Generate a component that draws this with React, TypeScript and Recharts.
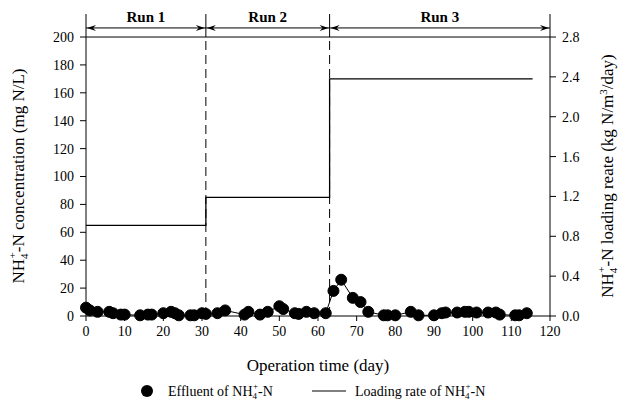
import React from 'react'
import { ComposedChart, Line, XAxis, YAxis, ReferenceLine } from 'recharts'

// effluent NH4+-N (mg N/L)
const days = [0, 1, 3, 6, 7, 9, 10, 14, 16, 17, 20, 22, 23, 24, 27, 28, 30, 31, 34, 36, 41, 42, 45, 47, 50, 51, 54, 55, 57, 59, 62, 64, 66, 69, 71, 73, 77, 78, 80, 84, 86, 90, 92, 93, 96, 98, 99, 101, 104, 106, 107, 111, 112, 114]
const effluent = [6, 4, 3, 3, 2, 1, 1, 0.5, 1, 1, 2, 3, 2, 0.5, 0.5, 0.5, 2, 1.5, 2, 4, 1, 3, 1, 3, 7, 5, 2, 1.5, 3, 2, 2, 18, 26, 13, 10, 3, 0.5, 0.5, 0.5, 3, 0.5, 0.5, 2, 2.5, 2.5, 3, 3, 2.5, 2.5, 2.5, 1, 0.5, 0.5, 2]

// loading rate (kg N/m3/day), stepped per run
const rateDays = [0, 31, 63, 115.5]
const rates = [0.91, 1.19, 2.38, 2.38]

// runs
const runNames = ['Run 1', 'Run 2', 'Run 3']
const runStart = [0, 31, 63]
const runEnd = [31, 63, 120]

const xTicks = [0, 10, 20, 30, 40, 50, 60, 70, 80, 90, 100, 110, 120]
const leftTicks = [0, 20, 40, 60, 80, 100, 120, 140, 160, 180, 200]
const rightTicks = [0, 0.4, 0.8, 1.2, 1.6, 2.0, 2.4, 2.8]

const effData = days.map((d, i) => ({ day: d, eff: effluent[i] }))
const rateData = rateDays.map((d, i) => ({ day: d, rate: rates[i] }))

const font = 'Liberation Serif'
const tick = { fill: '#000', fontSize: 14, fontFamily: font }

const LEFT_MAX = 216.5
const RIGHT_MAX = LEFT_MAX * 0.014
const ARROW_Y = 206.5

const arrowShape = (name: string) => (p: any) => {
  const { x1, y1, x2 } = p
  const y = y1
  return (
    <g>
      <line x1={x1} y1={y} x2={x2} y2={y} stroke="#000" strokeWidth={1} />
      <polygon points={`${x1 + 1},${y} ${x1 + 10},${y - 3} ${x1 + 7},${y} ${x1 + 10},${y + 3}`} fill="#000" />
      <polygon points={`${x2 - 1},${y} ${x2 - 10},${y - 3} ${x2 - 7},${y} ${x2 - 10},${y + 3}`} fill="#000" />
      <text x={(x1 + x2) / 2} y={y - 6} textAnchor="middle" fontFamily={font} fontWeight="bold" fontSize={15} fill="#000">{name}</text>
    </g>
  )
}

export default function App() {
  return (
    <div style={{ position: 'absolute', left: 0, top: 0, width: 629, height: 408, background: '#fff' }}>
      <ComposedChart width={629} height={408} margin={{ top: 14, right: 19, bottom: 62, left: 26 }}>
        <XAxis dataKey="day" type="number" domain={[0, 120]} ticks={xTicks} allowDuplicatedCategory={false}
          stroke="#000" tick={tick} tickSize={5} tickMargin={5} height={30} />
        <YAxis yAxisId="left" domain={[0, LEFT_MAX]} ticks={leftTicks} stroke="#000" tick={tick} tickSize={6} tickMargin={6} width={60} />
        <YAxis yAxisId="right" orientation="right" domain={[0, RIGHT_MAX]} ticks={rightTicks}
          tickFormatter={(v: number) => v.toFixed(1)} stroke="#000" tick={tick} tickSize={6} tickMargin={6} width={60} />

        <ReferenceLine yAxisId="left" y={200} stroke="#000" strokeWidth={1} />
        {[31, 63].map((d) => (
          <ReferenceLine key={'d' + d} yAxisId="left" segment={[{ x: d, y: 0 }, { x: d, y: 200 }]} stroke="#000" strokeDasharray="9 5" />
        ))}
        {[31, 63].map((d) => (
          <ReferenceLine key={'s' + d} yAxisId="left" segment={[{ x: d, y: 200 }, { x: d, y: LEFT_MAX }]} stroke="#000" />
        ))}
        {runNames.map((n, i) => (
          <ReferenceLine key={n} yAxisId="left" segment={[{ x: runStart[i], y: ARROW_Y }, { x: runEnd[i], y: ARROW_Y }]}
            shape={arrowShape(n)} />
        ))}

        <Line yAxisId="right" data={rateData} dataKey="rate" type="stepAfter" stroke="#000" strokeWidth={1.3} dot={false} isAnimationActive={false} />
        <Line yAxisId="left" data={effData} dataKey="eff" type="linear" stroke="#000" strokeWidth={1}
          dot={{ r: 5.5, fill: '#000', stroke: '#000', strokeWidth: 1 }} isAnimationActive={false} />

        <text transform="translate(24,176) rotate(-90)" textAnchor="middle" fontFamily={font} fontSize={17} fill="#000">
          NH<tspan dy={4} fontSize={11}>4</tspan><tspan dy={-12} dx={-5} fontSize={11}>+</tspan><tspan dy={8}>-N concentration (mg N/L)</tspan>
        </text>
        <text transform="translate(613,176) rotate(-90)" textAnchor="middle" fontFamily={font} fontSize={17} fill="#000">
          NH<tspan dy={4} fontSize={11}>4</tspan><tspan dy={-12} dx={-5} fontSize={11}>+</tspan><tspan dy={8}>-N loading reate (kg N/m</tspan><tspan dy={-6} fontSize={11}>3</tspan><tspan dy={6}>/day)</tspan>
        </text>
        <text x={318} y={371} textAnchor="middle" fontFamily={font} fontSize={17} fill="#000">Operation time (day)</text>

        <circle cx={147} cy={391} r={6} fill="#000" />
        <text x={168} y={396} fontFamily={font} fontSize={14} fill="#000">
          Effluent of NH<tspan dy={3} fontSize={9}>4</tspan><tspan dy={-10} dx={-4} fontSize={9}>+</tspan><tspan dy={7}>-N</tspan>
        </text>
        <line x1={312} y1={391} x2={346} y2={391} stroke="#000" strokeWidth={1.2} />
        <text x={355} y={396} fontFamily={font} fontSize={14} fill="#000">
          Loading rate of NH<tspan dy={3} fontSize={9}>4</tspan><tspan dy={-10} dx={-4} fontSize={9}>+</tspan><tspan dy={7}>-N</tspan>
        </text>
      </ComposedChart>
    </div>
  )
}
